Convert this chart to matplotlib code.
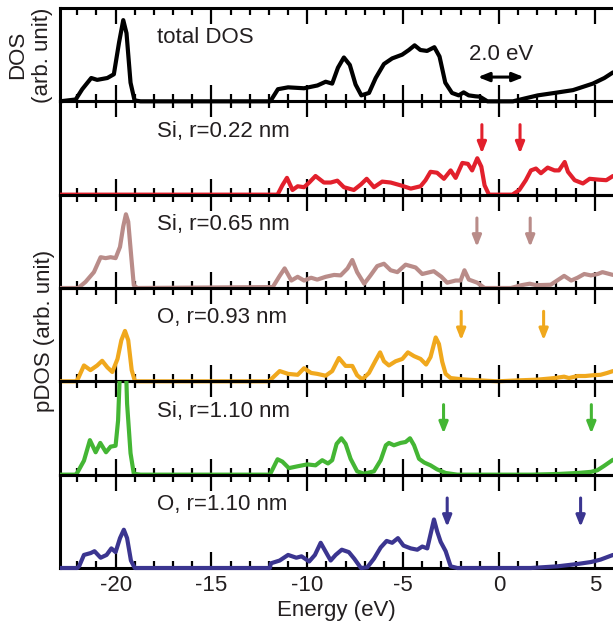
import matplotlib
matplotlib.use("Agg")
import matplotlib.pyplot as plt
from matplotlib.ticker import MultipleLocator
from matplotlib.transforms import Bbox, TransformedBbox

plt.rcParams['font.family'] = ['Liberation Sans', 'DejaVu Sans']
plt.rcParams['axes.unicode_minus'] = False

# ------------------------------- DATA (E in eV, DOS in arb. unit) -------------------------------#
total_dos = [(-22.9, 0), (-22.08, 0.02), (-21.74, 0.13), (-21.27, 0.25), (-20.96, 0.23), (-20.43, 0.25),
             (-20.09, 0.29), (-19.82, 0.63), (-19.6, 0.87), (-19.43, 0.73), (-19.22, 0.2), (-19.01, 0.01),
             (-18.7, 0), (-11.93, 0), (-11.53, 0.13), (-11.0, 0.15), (-10.17, 0.14), (-9.47, 0.17),
             (-9.04, 0.21), (-8.7, 0.19), (-8.4, 0.36), (-8.09, 0.47), (-7.78, 0.39), (-7.48, 0.18),
             (-7.18, 0.064), (-6.78, 0.09), (-6.43, 0.25), (-6.0, 0.40), (-5.57, 0.46), (-5.05, 0.5),
             (-4.7, 0.55), (-4.4, 0.6), (-4.1, 0.55), (-3.75, 0.54), (-3.37, 0.58), (-3.1, 0.48),
             (-2.8, 0.20), (-2.45, 0.09), (-2.1, 0.064), (-1.84, 0.096), (-1.58, 0.064), (-1.23, 0.054),
             (-1.0, 0.05), (-0.6, 0.0), (0.0, 0), (0.73, 0), (1.33, 0.03), (2.03, 0.064), (2.9, 0.09),
             (3.86, 0.12), (4.9, 0.19), (5.5, 0.25), (5.95, 0.31)]

si_022 = [(-22.9, 0), (-11.55, 0), (-11.3, 0.10), (-11.06, 0.18), (-10.77, 0.05), (-10.5, 0.09),
          (-10.17, 0.08), (-9.9, 0.13), (-9.57, 0.2), (-9.13, 0.13), (-8.78, 0.13), (-8.43, 0.15),
          (-8.09, 0.08), (-7.57, 0.05), (-7.2, 0.11), (-6.9, 0.17), (-6.52, 0.08), (-6.09, 0.14),
          (-5.65, 0.13), (-5.13, 0.10), (-4.6, 0.065), (-4.09, 0.09), (-3.83, 0.155), (-3.57, 0.245),
          (-3.23, 0.235), (-2.87, 0.17), (-2.52, 0.26), (-2.26, 0.18), (-1.91, 0.34), (-1.62, 0.33),
          (-1.4, 0.26), (-1.13, 0.39), (-0.92, 0.30), (-0.75, 0.10), (-0.52, 0), (0.7, 0), (1.06, 0.05),
          (1.4, 0.155), (1.67, 0.26), (1.93, 0.28), (2.19, 0.23), (2.54, 0.29), (2.9, 0.26), (3.13, 0.26),
          (3.43, 0.35), (3.6, 0.245), (3.95, 0.155), (4.38, 0.12), (4.73, 0.17), (5.25, 0.16),
          (5.6, 0.155), (5.95, 0.2)]

si_065 = [(-22.9, 0), (-21.95, 0), (-21.57, 0.065), (-21.13, 0.17), (-20.78, 0.33), (-20.52, 0.32),
          (-20.26, 0.33), (-20.0, 0.32), (-19.77, 0.44), (-19.6, 0.66), (-19.46, 0.79), (-19.34, 0.71),
          (-19.18, 0.33), (-19.05, 0.03), (-18.87, 0), (-11.8, 0.01), (-11.44, 0.13), (-11.18, 0.21),
          (-10.83, 0.08), (-10.5, 0.12), (-10.17, 0.08), (-9.8, 0.11), (-9.48, 0.09), (-9.04, 0.12),
          (-8.6, 0.14), (-8.26, 0.135), (-7.9, 0.21), (-7.65, 0.30), (-7.4, 0.17), (-7.03, 0.046),
          (-6.7, 0.135), (-6.35, 0.235), (-6.0, 0.26), (-5.65, 0.19), (-5.3, 0.17), (-4.87, 0.25),
          (-4.35, 0.22), (-4.0, 0.15), (-3.4, 0.18), (-3.0, 0.12), (-2.7, 0.057), (-2.26, 0.08),
          (-2.0, 0.08), (-1.8, 0.19), (-1.57, 0.09), (-1.13, 0.057), (-0.75, 0), (0.63, 0), (1.17, 0.03),
          (1.6, 0.046), (1.95, 0.03), (2.7, 0.035), (2.96, 0.07), (3.4, 0.13), (3.77, 0.08), (4.1, 0.11),
          (4.45, 0.15), (4.8, 0.135), (5.15, 0.15), (5.4, 0.17), (5.95, 0.14)]

o_093 = [(-22.9, 0), (-22.1, 0), (-22.0, 0.01), (-21.65, 0.17), (-21.31, 0.12), (-20.96, 0.17),
         (-20.7, 0.22), (-20.43, 0.15), (-20.17, 0.10), (-19.9, 0.24), (-19.7, 0.44), (-19.51, 0.54),
         (-19.34, 0.44), (-19.16, 0.12), (-18.99, 0), (-11.95, 0), (-11.9, 0.02), (-11.44, 0.11),
         (-11.0, 0.08), (-10.5, 0.07), (-10.17, 0.14), (-9.8, 0.09), (-9.48, 0.08), (-9.04, 0.06),
         (-8.7, 0.11), (-8.35, 0.25), (-8.0, 0.165), (-7.65, 0.165), (-7.4, 0.065), (-7.13, 0.02),
         (-6.78, 0.09), (-6.43, 0.225), (-6.2, 0.31), (-6.0, 0.215), (-5.74, 0.17), (-5.39, 0.215),
         (-5.04, 0.24), (-4.75, 0.31), (-4.43, 0.27), (-4.09, 0.24), (-3.8, 0.18), (-3.57, 0.26),
         (-3.3, 0.47), (-3.13, 0.40), (-2.96, 0.21), (-2.78, 0.08), (-2.52, 0.035), (-1.83, 0.02),
         (-0.96, 0.01), (-0.07, 0), (0.96, 0.01), (2.0, 0.018), (2.9, 0.035), (3.4, 0.05), (3.65, 0.035),
         (4.1, 0.057), (4.5, 0.057), (4.9, 0.065), (5.3, 0.07), (5.65, 0.09), (5.95, 0.11)]

si_110 = [(-22.9, 0), (-22.1, 0), (-22.0, 0.02), (-21.65, 0.15), (-21.34, 0.37), (-21.04, 0.24),
          (-20.8, 0.34), (-20.5, 0.24), (-20.26, 0.30), (-20.0, 0.31), (-19.87, 0.58), (-19.74, 1.3),
          (-19.6, 1.45), (-19.48, 1.3), (-19.4, 0.76), (-19.22, 0.23), (-19.05, 0.01), (-18.7, 0),
          (-11.95, 0), (-11.55, 0.165), (-11.3, 0.14), (-10.96, 0.07), (-10.5, 0.09), (-10.0, 0.11),
          (-9.57, 0.10), (-9.22, 0.155), (-8.92, 0.12), (-8.7, 0.155), (-8.47, 0.33), (-8.22, 0.39),
          (-8.0, 0.33), (-7.74, 0.17), (-7.4, 0.036), (-7.04, 0.01), (-6.52, 0.036), (-6.17, 0.155),
          (-5.9, 0.315), (-5.74, 0.34), (-5.48, 0.315), (-5.13, 0.34), (-4.87, 0.35), (-4.64, 0.39),
          (-4.43, 0.315), (-4.17, 0.17), (-3.9, 0.13), (-3.57, 0.10), (-3.23, 0.057), (-2.78, 0.018),
          (-2.17, 0), (1.67, 0), (3.06, 0.007), (4.1, 0.018), (4.8, 0.03), (5.13, 0.047), (5.48, 0.093),
          (5.95, 0.16)]

o_110 = [(-22.9, 0), (-22.0, 0), (-21.9, 0.02), (-21.65, 0.14), (-21.3, 0.16), (-21.1, 0.18),
         (-20.78, 0.11), (-20.47, 0.14), (-20.22, 0.21), (-20.0, 0.17), (-19.77, 0.32), (-19.57, 0.41),
         (-19.4, 0.32), (-19.2, 0.08), (-19.0, 0), (-11.95, 0), (-11.9, 0.05), (-11.44, 0.08),
         (-11.0, 0.14), (-10.57, 0.11), (-10.3, 0.125), (-9.9, 0.07), (-9.6, 0.14), (-9.3, 0.27),
         (-9.0, 0.16), (-8.78, 0.08), (-8.52, 0.14), (-8.2, 0.196), (-7.83, 0.17), (-7.55, 0.10),
         (-7.2, 0), (-6.87, 0.007), (-6.52, 0.10), (-6.17, 0.22), (-5.86, 0.29), (-5.57, 0.27),
         (-5.27, 0.32), (-4.98, 0.24), (-4.6, 0.21), (-4.26, 0.196), (-4.0, 0.23), (-3.74, 0.21),
         (-3.57, 0.36), (-3.39, 0.52), (-3.22, 0.39), (-3.04, 0.28), (-2.78, 0.18), (-2.52, 0.018),
         (-2.17, 0), (1.67, 0), (3.06, 0.018), (4.1, 0.043), (4.8, 0.064), (5.3, 0.09), (5.95, 0.14)]

curves = [total_dos, si_022, si_065, o_093, si_110, o_110]
labels = ['total DOS', 'Si, r=0.22 nm', 'Si, r=0.65 nm', 'O, r=0.93 nm', 'Si, r=1.10 nm', 'O, r=1.10 nm']
colors = ['black', '#e2202c', '#b98c89', '#f0a81d', '#44b634', '#3b3590']
# band edges marked by arrows (VBM, CBM) for each pDOS panel
gap_edges = [None, (-0.89, 1.1), (-1.15, 1.63), (-1.97, 2.33), (-2.89, 4.82), (-2.7, 4.26)]
total_gap = (-1.1, 1.3)
gap_text = '2.0 eV'

# --------------------------------------------- PLOT ---------------------------------------------#
fig = plt.figure(figsize=(6.13, 6.25), dpi=100)
gs = fig.add_gridspec(6, 1, left=60 / 613, right=1.0, top=1 - 8 / 625, bottom=1 - 568 / 625, hspace=0)
axes = [fig.add_subplot(gs[i]) for i in range(6)]
text_color = '#231f20'
arrow_head = '-|>,head_length=0.55,head_width=0.22'

for i, ax in enumerate(axes):
    ax.patch.set_visible(False)
    e, v = zip(*curves[i])
    line, = ax.plot(e, v, color=colors[i], lw=3.0, zorder=3,
                    solid_joinstyle='round', solid_capstyle='round')
    line.set_clip_box(TransformedBbox(Bbox([[0, -0.1], [1, 1]]), ax.transAxes))

    ax.set_xlim(-22.9, 5.95)
    ax.set_ylim(0, 1)
    ax.set_yticks([])
    ax.spines['right'].set_visible(False)
    for s in ['top', 'bottom', 'left']:
        ax.spines[s].set_linewidth(2.2)
    ax.xaxis.set_major_locator(MultipleLocator(5))
    ax.xaxis.set_minor_locator(MultipleLocator(1))
    ax.tick_params(which='both', direction='in', top=True, bottom=True, width=1.6,
                   labelbottom=(i == 5), labelsize=16, pad=5, colors='black', labelcolor=text_color)
    ax.tick_params(which='major', length=11.5)
    ax.tick_params(which='minor', length=5)

    ax.text(0.175, 0.68, labels[i], transform=ax.transAxes, fontsize=16, va='center', color=text_color)

    if gap_edges[i] is not None:
        for x in gap_edges[i]:
            ax.annotate('', xy=(x, 0.44), xytext=(x, 0.75),
                        arrowprops=dict(arrowstyle=arrow_head, color=colors[i],
                                        lw=2.2, shrinkA=0, shrinkB=0, mutation_scale=12))

axes[0].annotate('', xy=(total_gap[0], 0.26), xytext=(total_gap[1], 0.26),
                 arrowprops=dict(arrowstyle='<|-|>,head_length=0.55,head_width=0.22', color='black',
                                 lw=2.2, shrinkA=0, shrinkB=0, mutation_scale=12))
axes[0].text(sum(total_gap) / 2, 0.5, gap_text, fontsize=16, ha='center', va='center', color=text_color)

axes[5].set_xlabel('Energy (eV)', fontsize=16, color=text_color, labelpad=3)

fig.text(30 / 613, 1 - 55 / 625, 'DOS\n(arb. unit)', rotation=90, fontsize=16, ha='center', va='center',
         multialignment='center', color=text_color, linespacing=1.25)
fig.text(45 / 613, 1 - 331 / 625, 'pDOS (arb. unit)', rotation=90, fontsize=16, ha='center', va='center',
         color=text_color)

fig.savefig('out.png', dpi=100)
